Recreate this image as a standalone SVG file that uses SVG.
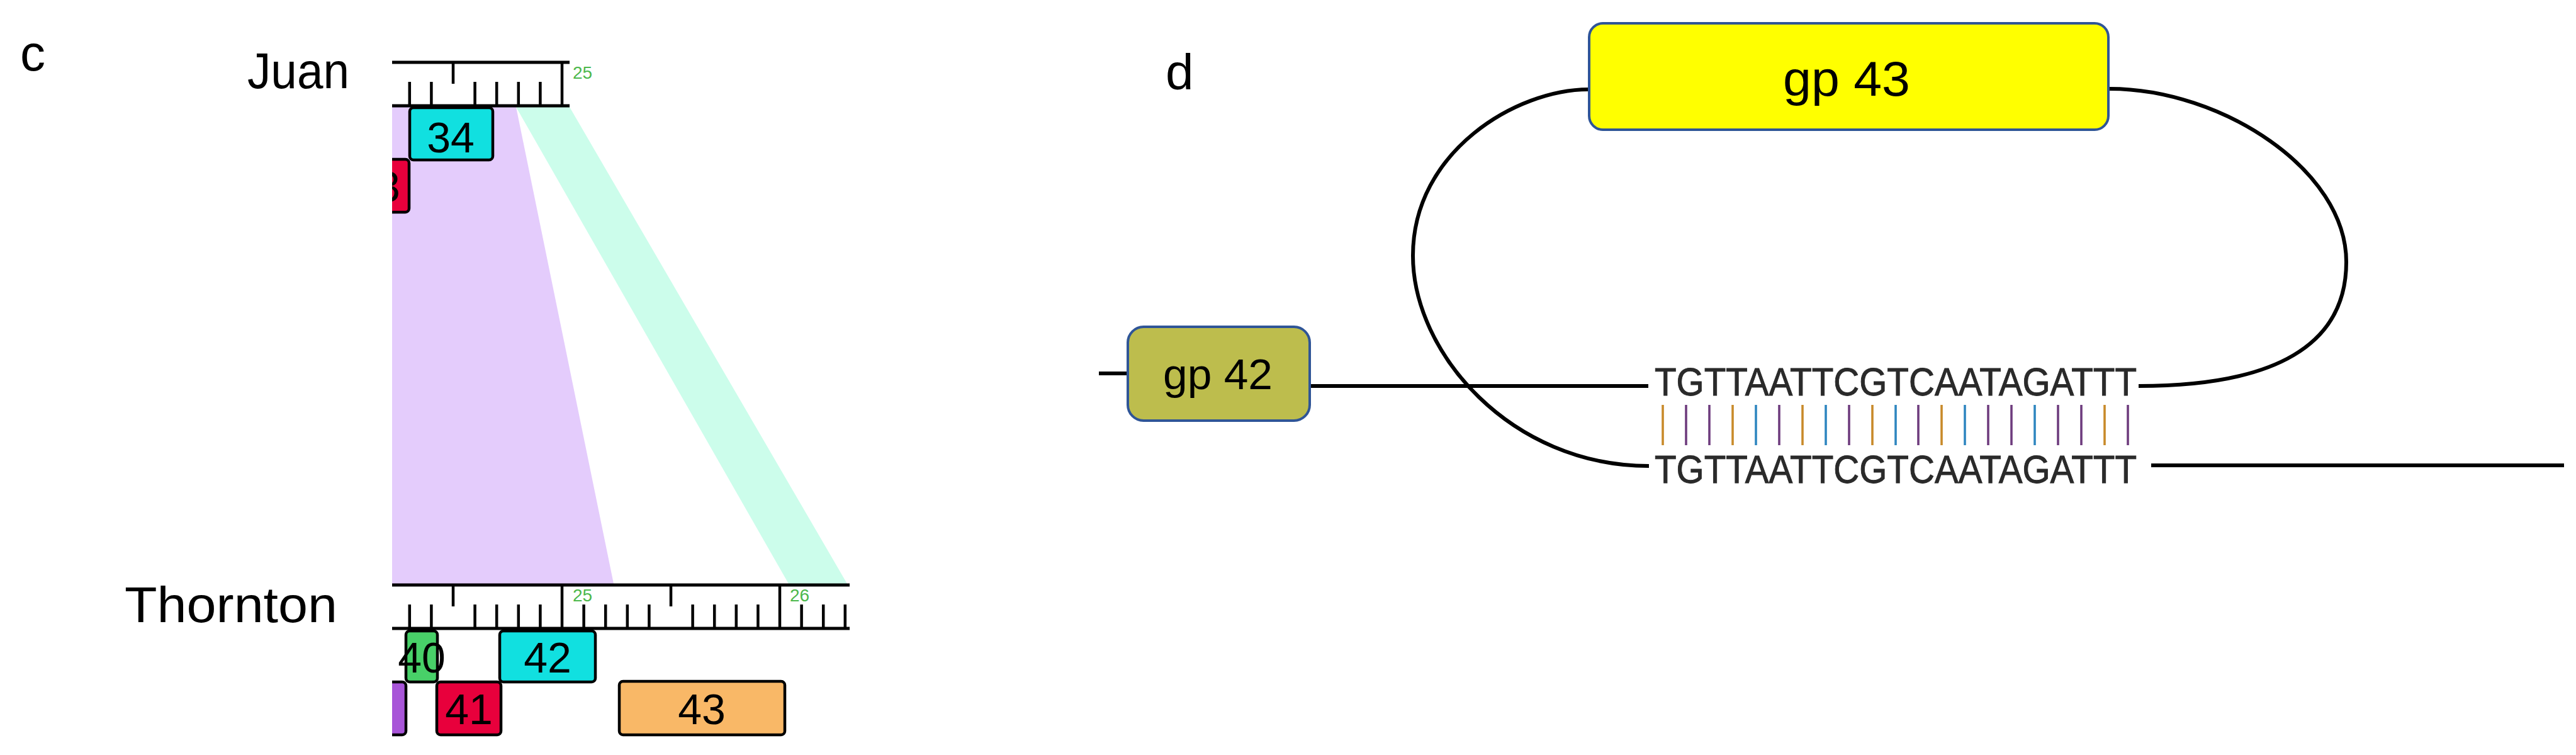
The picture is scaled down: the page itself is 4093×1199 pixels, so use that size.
<svg xmlns="http://www.w3.org/2000/svg" width="4093" height="1199" viewBox="0 0 4093 1199">
<style>
text{font-family:"Liberation Sans",Arial,sans-serif;fill:#000}
.lbl{font-size:80px}
.num{font-size:68px;text-anchor:middle}
.tick{font-size:28px;fill:#4CB84C}
.rul{stroke:#000;stroke-width:5;fill:none}
.tk{stroke:#000;stroke-width:4.5;fill:none}
.gene{stroke:#000;stroke-width:4.5}
.gp{stroke:#2F5597;stroke-width:4}
.gpt{text-anchor:middle}
.seq{font-size:63px;fill:#2a2a2a;stroke:#2a2a2a;stroke-width:1}
.wire{stroke:#000;stroke-width:6;fill:none}
.bar{stroke-width:3.6}
.o{stroke:#C88A2A}
.p{stroke:#6E3C7E}
.b{stroke:#2F86C0}
</style>
<defs>
<clipPath id="clipC"><rect x="623" y="0" width="1000" height="1199"/></clipPath>
</defs>
<rect width="4093" height="1199" fill="#fff"/>

<!-- panel c -->
<text id="label-c" class="lbl" x="32" y="112">c</text>
<g id="links" clip-path="url(#clipC)">
<polygon points="820,170 905,170 1346,927 1253,927" fill="#CCFDEB"/>
<polygon points="600,170 820,170 975,927 600,927" fill="#E4CCFC" style="mix-blend-mode:multiply"/>
</g>

<g id="juan">
<text class="lbl" x="393" y="140" textLength="162" lengthAdjust="spacingAndGlyphs">Juan</text>
<path class="rul" d="M623 99H905M623 168H905"/>
<path class="tk" d="M893 99V168M720 99V133M650.8 130V168M685.4 130V168M754.6 130V168M789.2 130V168M823.8 130V168M858.4 130V168"/>
<text class="tick" x="910" y="125">25</text>
</g>

<g id="gene-33" clip-path="url(#clipC)">
<rect class="gene" x="560" y="253" width="90" height="84" rx="6" fill="#E8003C"/>
<text class="num" x="617" y="320">3</text>
</g>
<g id="gene-34">
<rect class="gene" x="651" y="171" width="132" height="83" rx="6" fill="#11E0E0"/>
<text class="num" x="716" y="242">34</text>
</g>

<g id="thornton">
<text class="lbl" x="198" y="988" textLength="338" lengthAdjust="spacingAndGlyphs">Thornton</text>
<path class="rul" d="M623 929H1350M623 998H1350"/>
<path class="tk" d="M893 929V998M1239 929V998M720 929V963M1066 929V963M650.8 960V998M685.4 960V998M754.6 960V998M789.2 960V998M823.8 960V998M858.4 960V998M927.6 960V998M962.2 960V998M996.8 960V998M1031.4 960V998M1100.6 960V998M1135.2 960V998M1169.8 960V998M1204.4 960V998M1273.6 960V998M1308.2 960V998M1342.8 960V998"/>
<text class="tick" x="910" y="955">25</text>
<text class="tick" x="1255" y="955">26</text>
</g>

<g id="gene-39" clip-path="url(#clipC)">
<rect class="gene" x="560" y="1083" width="85" height="84" rx="6" fill="#A855D8"/>
</g>
<g id="gene-40">
<rect class="gene" x="645" y="1002" width="50" height="81" rx="6" fill="#48D068"/>
<text class="num" x="670" y="1068">40</text>
</g>
<g id="gene-41">
<rect class="gene" x="694" y="1083" width="102" height="84" rx="6" fill="#E8003C"/>
<text class="num" x="745" y="1150">41</text>
</g>
<g id="gene-42">
<rect class="gene" x="794" y="1002" width="152" height="81" rx="6" fill="#11E0E0"/>
<text class="num" x="870" y="1068">42</text>
</g>
<g id="gene-43">
<rect class="gene" x="984" y="1082" width="263" height="85" rx="6" fill="#F9B867"/>
<text class="num" x="1115" y="1150">43</text>
</g>

<!-- panel d -->
<text id="label-d" class="lbl" x="1852" y="142">d</text>

<g id="connectors">
<path class="wire" d="M1746 593H1792"/>
<path class="wire" d="M2081 613H2619"/>
<path class="wire" d="M3418 739H4074"/>
<path class="wire" d="M2524 142C2410 142 2245 240 2245 406C2245 560 2400 740 2620 740"/>
<path class="wire" d="M3398 613C3615 613 3728 548 3728 416C3728 270 3530 141 3352 141"/>
</g>

<g id="gp43">
<rect class="gp" x="2525" y="37" width="825" height="169" rx="22" fill="#FFFF00"/>
<text class="gpt" x="2934" y="152" font-size="77" textLength="202" lengthAdjust="spacingAndGlyphs">gp 43</text>
</g>
<g id="gp42">
<rect class="gp" x="1792" y="519" width="289" height="149" rx="25" fill="#BDBD4D"/>
<text class="gpt" x="1935" y="618" font-size="68" textLength="174" lengthAdjust="spacingAndGlyphs">gp 42</text>
</g>

<g id="seq-top">
<text class="seq" x="2629" y="628" textLength="766" lengthAdjust="spacingAndGlyphs">TGTTAATTCGTCAATAGATTT</text>
</g>
<g id="pairing" class="bar">
<path class="o" d="M2642 643V707"/>
<path class="p" d="M2679 643V707"/>
<path class="p" d="M2716 643V707"/>
<path class="o" d="M2753 643V707"/>
<path class="b" d="M2790 643V707"/>
<path class="p" d="M2827 643V707"/>
<path class="o" d="M2864 643V707"/>
<path class="b" d="M2901 643V707"/>
<path class="p" d="M2938 643V707"/>
<path class="o" d="M2975 643V707"/>
<path class="b" d="M3012 643V707"/>
<path class="p" d="M3048 643V707"/>
<path class="o" d="M3085 643V707"/>
<path class="b" d="M3122 643V707"/>
<path class="p" d="M3159 643V707"/>
<path class="p" d="M3196 643V707"/>
<path class="b" d="M3233 643V707"/>
<path class="p" d="M3270 643V707"/>
<path class="p" d="M3307 643V707"/>
<path class="o" d="M3344 643V707"/>
<path class="p" d="M3381 643V707"/>
</g>
<g id="seq-bottom">
<text class="seq" x="2629" y="767" textLength="766" lengthAdjust="spacingAndGlyphs">TGTTAATTCGTCAATAGATTT</text>
</g>
</svg>
